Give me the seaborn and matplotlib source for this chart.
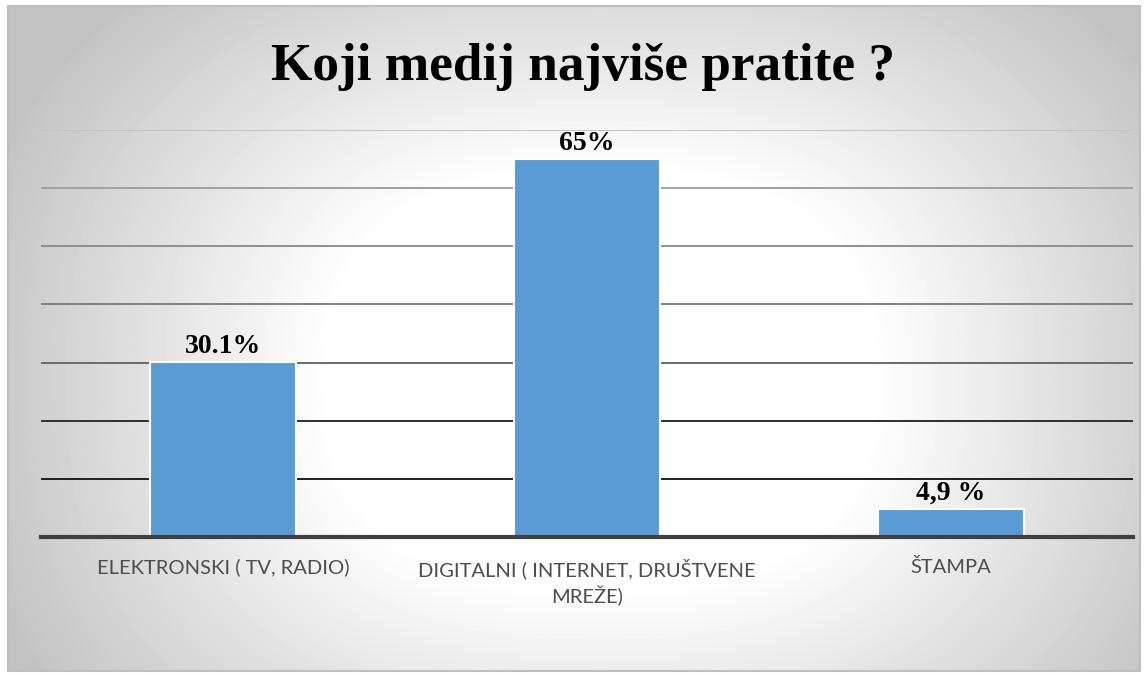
import numpy as np
import pandas as pd
import seaborn as sns
import matplotlib.pyplot as plt
from matplotlib.patches import Rectangle

# data
categories = ["ELEKTRONSKI ( TV, RADIO)", "DIGITALNI ( INTERNET, DRUŠTVENE\nMREŽE)", "ŠTAMPA"]
values = [30.1, 65, 4.9]
value_labels = ["30.1%", "65%", "4,9 %"]
title = "Koji medij najviše pratite ?"
# gridline colours for 10, 20, ... 70 (dark at bottom, light at top)
grid_colors = ["#1e1e1e", "#2e2e2e", "#6a6a6a", "#808080", "#8f8f8f", "#a0a0a0", "#c2c2c2"]

df = pd.DataFrame({"medij": categories, "procenat": values})

sns.set_theme(style="white")
plt.rcParams['font.family'] = ['Lato', 'DejaVu Sans']

W, H = 1147, 675
fig = plt.figure(figsize=(W / 100, H / 100), dpi=100)

# grey path-style gradient background inside a thin frame
bg = fig.add_axes([0, 0, 1, 1], zorder=-10)
yy, xx = np.mgrid[0:H, 0:W]
p = 2.5
r = (np.abs((xx - 600) / 600) ** p + np.abs((yy - 380) / 460) ** p) ** (1 / p)
img = 1 - 0.21 * np.clip((r - 0.45) / 0.55, 0, 1.15)
inside = (xx >= 8) & (xx <= 1140) & (yy >= 6) & (yy <= 671)
img[~inside] = 1.0
bg.imshow(img, cmap="gray", vmin=0, vmax=1, extent=[0, W, H, 0], aspect="auto", interpolation="bilinear")
bg.add_patch(Rectangle((8, 6), 1132, 665, fill=False, edgecolor="#bfbfbf", lw=1.5))
bg.set_xlim(0, W)
bg.set_ylim(H, 0)
bg.axis("off")

ax = fig.add_axes([41 / W, 1 - 537 / H, 1092 / W, 407 / H])
ax.patch.set_alpha(0)

sns.barplot(data=df, x="medij", y="procenat", color="#5B9BD5", saturation=1, width=0.4,
            edgecolor="white", linewidth=1.5, ax=ax, zorder=3)

ax.set_xlim(-0.5, 2.5)
ax.set_ylim(0, 70)
ax.set_yticks(range(0, 71, 10))
ax.set_yticklabels([])
ax.yaxis.grid(True, lw=1.4)
ax.set_axisbelow(True)
for i, gl in enumerate(ax.get_ygridlines()):
    if i == 0:
        gl.set_visible(False)
    else:
        gl.set_color(grid_colors[i - 1])

for s in ["left", "right", "top"]:
    ax.spines[s].set_visible(False)
ax.spines["bottom"].set_color("#404040")
ax.spines["bottom"].set_linewidth(3)
ax.spines["bottom"].set_zorder(4)

ax.set_xlabel("")
ax.set_ylabel("")
ax.tick_params(axis="x", length=0, pad=15, labelsize=14.5, labelcolor="#4d4d4d")
ax.tick_params(axis="y", length=0)
for lab in ax.get_xticklabels():
    lab.set_linespacing(1.4)

ax.bar_label(ax.containers[0], labels=value_labels, padding=2, fontsize=20,
             fontweight="bold", family="Liberation Serif", color="black")

fig.text(583 / W, 1 - 67 / H, title, ha="center", va="center", fontsize=38.3,
         fontweight="bold", family="Liberation Serif", color="black")

fig.savefig("out.png", dpi=100)
